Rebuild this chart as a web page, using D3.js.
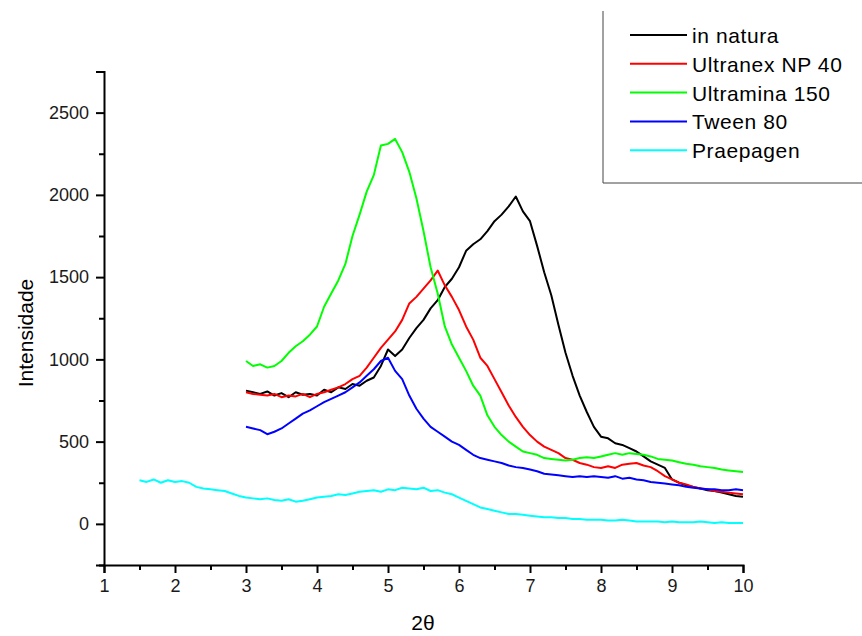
<!DOCTYPE html>
<html>
<head>
<meta charset="utf-8">
<script src="https://cdn.jsdelivr.net/npm/d3@7"></script>
<style>
  body { margin: 0; background: #fff; }
  text { font-family: "Liberation Sans", Arial, sans-serif; }
</style>
</head>
<body>
<div id="chart"></div>
<script>
// sampled every 0.1 in 2theta
var xStart = 3.0, cyanStart = 1.5, xStep = 0.1;

var inNatura = [810, 800, 790, 805, 780, 795, 770, 800, 785, 790,
  780, 815, 800, 830, 820, 850, 840, 870, 890, 960,
  1060, 1020, 1060, 1130, 1190, 1240, 1310, 1360, 1440, 1490,
  1560, 1660, 1700, 1730, 1780, 1840, 1880, 1930, 1990, 1900,
  1840, 1690, 1530, 1390, 1210, 1040, 900, 780, 680, 590,
  530, 520, 490, 480, 460, 440, 410, 380, 360, 340,
  270, 250, 235, 225, 215, 205, 200, 190, 180, 170, 165];

var ultranex = [800, 790, 785, 780, 790, 770, 780, 775, 790, 770,
  790, 800, 815, 830, 850, 880, 900, 950, 1010, 1070,
  1120, 1170, 1240, 1340, 1380, 1430, 1480, 1540, 1450, 1380,
  1300, 1200, 1120, 1010, 960, 880, 800, 720, 650, 590,
  540, 500, 470, 450, 430, 400, 390, 370, 360, 345,
  340, 350, 340, 360, 365, 370, 355, 345, 320, 290,
  270, 250, 240, 225, 215, 210, 200, 195, 190, 185, 180];

var ultramina = [990, 960, 970, 950, 960, 990, 1040, 1080, 1110, 1150,
  1200, 1320, 1400, 1480, 1580, 1750, 1880, 2020, 2120, 2300,
  2310, 2340, 2260, 2140, 1980, 1780, 1560, 1400, 1200, 1090,
  1010, 930, 840, 780, 660, 590, 540, 500, 470, 440,
  430, 420, 400, 395, 390, 385, 390, 400, 405, 400,
  410, 420, 430, 420, 430, 425, 420, 410, 395, 390,
  385, 375, 365, 360, 350, 345, 340, 330, 325, 320, 315];

var tween = [590, 580, 570, 545, 560, 580, 610, 640, 670, 690,
  715, 740, 760, 780, 800, 830, 860, 900, 940, 990,
  1010, 930, 880, 780, 700, 640, 590, 560, 530, 500,
  480, 450, 420, 400, 390, 380, 370, 355, 345, 340,
  330, 320, 305, 300, 295, 290, 285, 290, 285, 290,
  285, 280, 290, 275, 280, 270, 265, 255, 250, 245,
  240, 235, 225, 220, 215, 210, 210, 205, 205, 210, 205];

var praepagen = [265, 255, 270, 250, 265, 255, 260, 250, 225, 215,
  210, 205, 200, 185, 170, 160, 155, 150, 155, 145,
  140, 150, 135, 140, 150, 160, 165, 170, 180, 175,
  185, 195, 200, 205, 195, 210, 205, 220, 215, 210,
  220, 200, 205, 190, 180, 160, 140, 120, 100, 90,
  80, 70, 60, 60, 55, 50, 45, 40, 40, 35,
  35, 30, 30, 25, 25, 25, 20, 20, 25, 20,
  15, 15, 15, 15, 10, 15, 10, 10, 10, 15,
  10, 5, 10, 5, 5, 5];

var seriesNames = ["in natura", "Ultranex NP 40", "Ultramina 150", "Tween 80", "Praepagen"];
var seriesColors = ["#000000", "#ff0000", "#00ff00", "#0000ff", "#00ffff"];
var seriesValues = [inNatura, ultranex, ultramina, tween, praepagen];
var seriesStarts = [xStart, xStart, xStart, xStart, cyanStart];

var xTicks = [1, 2, 3, 4, 5, 6, 7, 8, 9, 10];
var xMinor = [1.5, 2.5, 3.5, 4.5, 5.5, 6.5, 7.5, 8.5, 9.5];
var yTicks = [0, 500, 1000, 1500, 2000, 2500];
var yMinor = [-250, 250, 750, 1250, 1750, 2250, 2750];

var svg = d3.select("#chart").append("svg")
  .attr("width", 862)
  .attr("height", 636);

var x = d3.scaleLinear().domain([1, 10]).range([104, 743]);
var y = d3.scaleLinear().domain([-250, 2750]).range([565, 71.5]);

var line = d3.line()
  .x(function(d){ return x(d[0]); })
  .y(function(d){ return y(d[1]); });

// curves
seriesValues.forEach(function(vals, k){
  var pts = vals.map(function(v, i){ return [seriesStarts[k] + i * xStep, v]; });
  svg.append("path")
    .datum(pts)
    .attr("fill", "none")
    .attr("stroke", seriesColors[k])
    .attr("stroke-width", 2)
    .attr("stroke-linejoin", "round")
    .attr("d", line);
});

// x axis
var xAxis = svg.append("g")
  .attr("transform", "translate(0," + y(-250) + ")")
  .call(d3.axisBottom(x).tickValues(xTicks).tickSize(8).tickPadding(6).tickFormat(d3.format("d")));
svg.append("g")
  .attr("transform", "translate(0," + y(-250) + ")")
  .call(d3.axisBottom(x).tickValues(xMinor).tickSize(5).tickFormat(""))
  .select(".domain").remove();

// y axis
var yAxis = svg.append("g")
  .attr("transform", "translate(" + x(1) + ",0)")
  .call(d3.axisLeft(y).tickValues(yTicks).tickSize(8).tickPadding(7).tickFormat(d3.format("d")));
svg.append("g")
  .attr("transform", "translate(" + x(1) + ",0)")
  .call(d3.axisLeft(y).tickValues(yMinor).tickSize(5).tickFormat(""))
  .select(".domain").remove();

svg.selectAll(".domain").attr("stroke", "#000").attr("stroke-width", 2);
svg.selectAll(".tick line").attr("stroke", "#000").attr("stroke-width", 2);
svg.selectAll(".tick text")
  .style("font-family", "'Liberation Sans', Arial, sans-serif")
  .style("font-size", "18px")
  .attr("fill", "#1a1a1a");

// axis titles
svg.append("text")
  .attr("transform", "translate(33,333) rotate(-90)")
  .attr("text-anchor", "middle")
  .style("font-size", "21px")
  .style("fill", "#000")
  .text("Intensidade");

svg.append("text")
  .attr("x", 423)
  .attr("y", 630)
  .attr("text-anchor", "middle")
  .style("font-size", "21px")
  .style("fill", "#000")
  .text("2θ");

// legend
svg.append("line")
  .attr("x1", 603).attr("y1", 11)
  .attr("x2", 603).attr("y2", 183)
  .attr("stroke", "#444").attr("stroke-width", 1);
svg.append("line")
  .attr("x1", 603).attr("y1", 183)
  .attr("x2", 862).attr("y2", 183)
  .attr("stroke", "#444").attr("stroke-width", 1);

seriesNames.forEach(function(name, i){
  var ly = 35 + i * 28.8;
  svg.append("line")
    .attr("x1", 630).attr("y1", ly)
    .attr("x2", 687).attr("y2", ly)
    .attr("stroke", seriesColors[i])
    .attr("stroke-width", 2);
  svg.append("text")
    .attr("x", 692)
    .attr("y", ly + 8)
    .style("font-size", "21px")
    .style("letter-spacing", "0.6px")
    .style("fill", "#000")
    .text(name);
});
</script>
</body>
</html>
